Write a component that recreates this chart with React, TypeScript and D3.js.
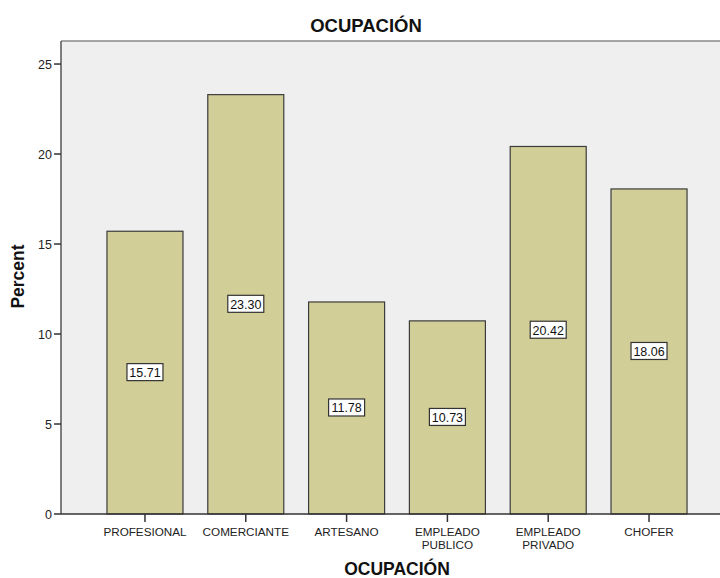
import React from "react";
import * as d3 from "d3";

const categories = ["PROFESIONAL", "COMERCIANTE", "ARTESANO", "EMPLEADO PUBLICO", "EMPLEADO PRIVADO", "CHOFER"];
const categoryLines = [["PROFESIONAL"], ["COMERCIANTE"], ["ARTESANO"], ["EMPLEADO", "PUBLICO"], ["EMPLEADO", "PRIVADO"], ["CHOFER"]];
const percents = [15.71, 23.30, 11.78, 10.73, 20.42, 18.06];
const yTicks = [0, 5, 10, 15, 20, 25];
const title = "OCUPACIÓN";
const xTitle = "OCUPACIÓN";
const yTitle = "Percent";

const W = 720;
const H = 578;
const left = 61;
const top = 41;
const bottom = 514;
const rightExt = 733;
const font = "'Liberation Sans', Arial, sans-serif";

export default function App() {
  const x = d3.scaleBand<string>().domain(categories).range([left, rightExt]).paddingInner(0.246).paddingOuter(0.456);
  const y = d3.scaleLinear().domain([0, 26.28]).range([bottom, top]);
  const bw = x.bandwidth();
  return (
    <svg width={W} height={H} style={{ position: "absolute", left: 0, top: 0, background: "#fff" }} fontFamily={font}>
      <rect x={left} y={top} width={W - left} height={bottom - top} fill="#efefef" />
      <line x1={left} x2={W} y1={top} y2={top} stroke="#8a8a8a" strokeWidth={1.5} />
      {percents.map((v, i) => {
        const c = categories[i];
        const x0 = x(c)!;
        return (
          <rect key={c} x={x0} y={y(v)} width={bw} height={y(0) - y(v)} fill="#d2ce98" stroke="#3c3c3c" strokeWidth={1.2} />
        );
      })}
      <line x1={left} x2={left} y1={top} y2={bottom} stroke="#555" strokeWidth={1.5} />
      <line x1={left} x2={W} y1={bottom} y2={bottom} stroke="#333" strokeWidth={1.5} />
      {yTicks.map((t) => (
        <g key={t}>
          <line x1={left - 7} x2={left} y1={y(t)} y2={y(t)} stroke="#333" strokeWidth={1.5} />
          <text x={left - 9} y={y(t)} dy="0.36em" textAnchor="end" fontSize={12.5} fill="#222">{t}</text>
        </g>
      ))}
      {categories.map((c, i) => {
        const cx = x(c)! + bw / 2;
        return (
          <g key={c}>
            <line x1={cx} x2={cx} y1={bottom} y2={bottom + 8} stroke="#333" strokeWidth={1.5} />
            {categoryLines[i].map((ln, j) => (
              <text key={j} x={cx} y={536 + j * 12.5} textAnchor="middle" fontSize={11.7} fill="#222">{ln}</text>
            ))}
          </g>
        );
      })}
      {percents.map((v, i) => {
        const c = categories[i];
        const cx = x(c)! + bw / 2;
        const cy = y(v / 2);
        const label = v.toFixed(2);
        return (
          <g key={"l" + c}>
            <rect x={cx - 18} y={cy - 9} width={36} height={17} fill="#fff" stroke="#333" strokeWidth={1.2} />
            <text x={cx} y={cy} dy="0.35em" textAnchor="middle" fontSize={12.5} fill="#111">{label}</text>
          </g>
        );
      })}
      <text x={366} y={32} textAnchor="middle" fontSize={18.5} fontWeight="bold" fill="#111">{title}</text>
      <text x={(left + rightExt) / 2} y={575} textAnchor="middle" fontSize={17.5} fontWeight="bold" fill="#111">{xTitle}</text>
      <text transform={`translate(24, ${276.5}) rotate(-90)`} textAnchor="middle" fontSize={17.5} fontWeight="bold" fill="#111">{yTitle}</text>
    </svg>
  );
}
